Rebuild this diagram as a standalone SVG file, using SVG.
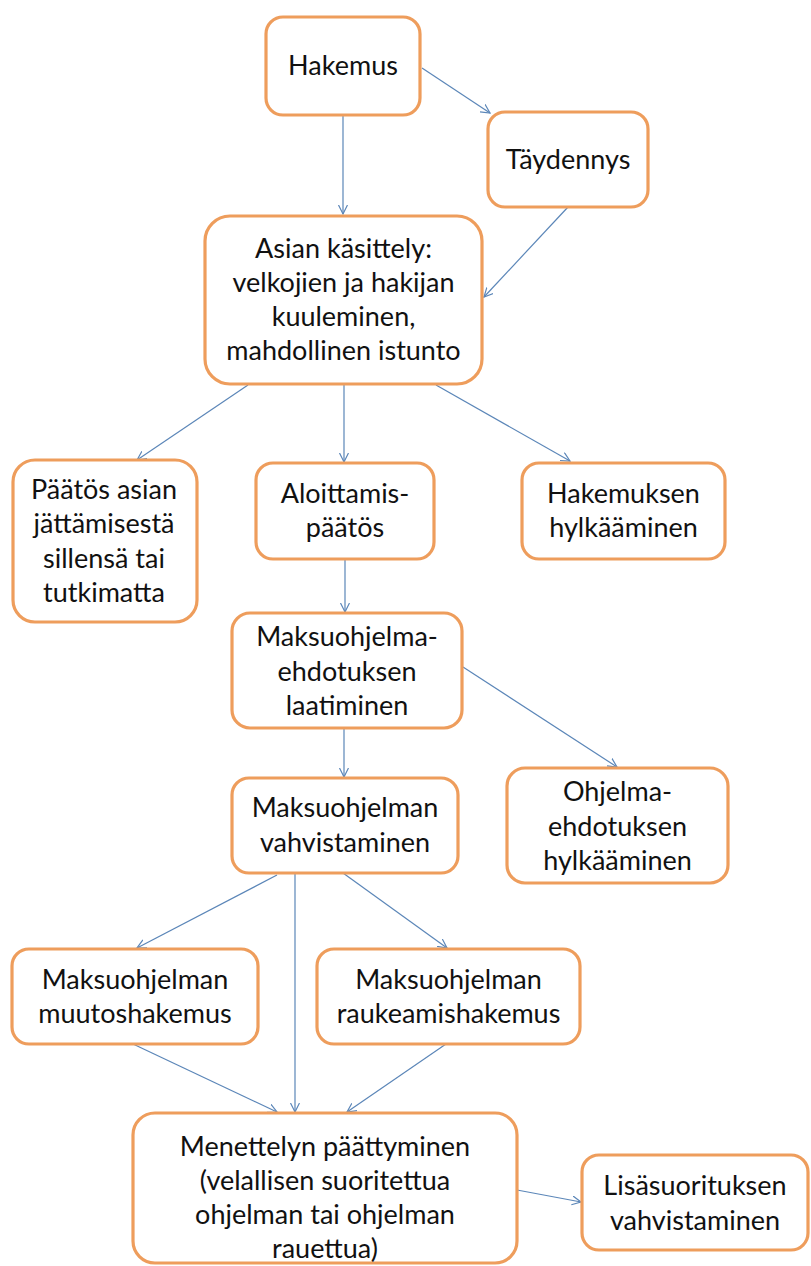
<svg xmlns="http://www.w3.org/2000/svg" width="811" height="1266" viewBox="0 0 811 1266">
<style>
.box{fill:#fff;stroke:#EE9D5C;stroke-width:3.2}
.t{font-family:Lato,"Liberation Sans",sans-serif;font-size:27px;fill:#111;text-anchor:middle}
.c line{stroke:#5B86B8;stroke-width:1.2;marker-end:url(#ah)}
</style>
<defs>
<marker id="ah" markerUnits="userSpaceOnUse" markerWidth="12" markerHeight="12" refX="9" refY="5" orient="auto">
<path d="M0,0.5 L9,5 L0,9.5" fill="none" stroke="#5B86B8" stroke-width="1.2"/>
</marker>
</defs>
<rect width="811" height="1266" fill="#fff"/>
<g class="c" id="connectors">
<line x1="343" y1="115" x2="343" y2="214"/>
<line x1="422" y1="68" x2="490" y2="113"/>
<line x1="568" y1="207" x2="484" y2="297"/>
<line x1="248" y1="385" x2="137" y2="460"/>
<line x1="344" y1="384" x2="344" y2="462"/>
<line x1="436" y1="385" x2="570" y2="461"/>
<line x1="345" y1="559" x2="345" y2="612"/>
<line x1="463" y1="667" x2="617" y2="767"/>
<line x1="344" y1="729" x2="344" y2="777"/>
<line x1="277" y1="875" x2="137" y2="948"/>
<line x1="295" y1="873" x2="295" y2="1112"/>
<line x1="343" y1="873" x2="447" y2="948"/>
<line x1="133" y1="1044" x2="277" y2="1112"/>
<line x1="446" y1="1044" x2="347" y2="1112"/>
<line x1="517" y1="1190" x2="581" y2="1202"/>
</g>
<g id="hakemus"><rect class="box" x="266" y="17" width="154" height="98" rx="17"/><text class="t" x="343" y="75">Hakemus</text></g>
<g id="taydennys"><rect class="box" x="488" y="112" width="160" height="95" rx="17"/><text class="t" x="568" y="169">Täydennys</text></g>
<g id="asian"><rect class="box" x="205" y="216" width="277" height="168" rx="25"/>
<text class="t" x="343.5" y="258">Asian käsittely:</text><text class="t" x="343.5" y="292">velkojien ja hakijan</text><text class="t" x="343.5" y="326">kuuleminen,</text><text class="t" x="343.5" y="360">mahdollinen istunto</text></g>
<g id="paatos"><rect class="box" x="13" y="460" width="184" height="162" rx="22"/>
<text class="t" x="104" y="499">Päätös asian</text><text class="t" x="104" y="533">jättämisestä</text><text class="t" x="104" y="568">sillensä tai</text><text class="t" x="104" y="602">tutkimatta</text></g>
<g id="aloittamis"><rect class="box" x="256" y="463" width="178" height="96" rx="17"/>
<text class="t" x="345" y="503">Aloittamis-</text><text class="t" x="345" y="537">päätös</text></g>
<g id="hakemuksen"><rect class="box" x="522" y="463" width="203" height="96" rx="17"/>
<text class="t" x="623.5" y="503">Hakemuksen</text><text class="t" x="623.5" y="537">hylkääminen</text></g>
<g id="ehdotus"><rect class="box" x="232" y="613" width="230" height="115" rx="18"/>
<text class="t" x="347" y="646">Maksuohjelma-</text><text class="t" x="347" y="680.5">ehdotuksen</text><text class="t" x="347" y="715">laatiminen</text></g>
<g id="vahvistaminen"><rect class="box" x="232" y="778" width="226" height="95" rx="17"/>
<text class="t" x="345" y="817">Maksuohjelman</text><text class="t" x="345" y="852">vahvistaminen</text></g>
<g id="ohjelma"><rect class="box" x="507" y="768" width="221" height="115" rx="18"/>
<text class="t" x="617.5" y="801">Ohjelma-</text><text class="t" x="617.5" y="836">ehdotuksen</text><text class="t" x="617.5" y="870">hylkääminen</text></g>
<g id="muutos"><rect class="box" x="12" y="949" width="246" height="95" rx="17"/>
<text class="t" x="135" y="989">Maksuohjelman</text><text class="t" x="135" y="1023">muutoshakemus</text></g>
<g id="raukeamis"><rect class="box" x="317" y="949" width="263" height="95" rx="17"/>
<text class="t" x="448.5" y="989">Maksuohjelman</text><text class="t" x="448.5" y="1023">raukeamishakemus</text></g>
<g id="menettelyn"><rect class="box" x="133" y="1113" width="384" height="150" rx="22"/>
<text class="t" x="325" y="1156">Menettelyn päättyminen</text><text class="t" x="325" y="1190">(velallisen suoritettua</text><text class="t" x="325" y="1224">ohjelman tai ohjelman</text><text class="t" x="325" y="1258">rauettua)</text></g>
<g id="lisa"><rect class="box" x="582" y="1155" width="226" height="95" rx="17"/>
<text class="t" x="695" y="1195">Lisäsuorituksen</text><text class="t" x="695" y="1230">vahvistaminen</text></g>
</svg>
